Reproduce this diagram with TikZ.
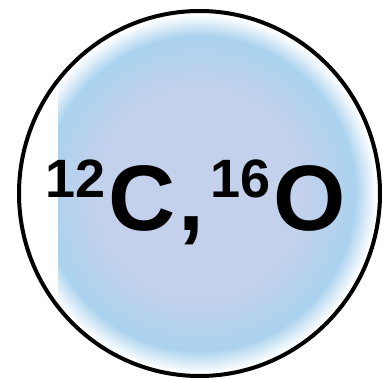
\documentclass[tikz,border=0pt]{standalone}
\usepackage{fontspec}
\setmainfont{Liberation Sans}
\definecolor{lav}{RGB}{196,209,236}
\definecolor{bl}{RGB}{170,210,238}
\pgfdeclareradialshading{bubble}{\pgfpoint{0bp}{0bp}}{color(0bp)=(lav); color(14bp)=(lav); color(21.5bp)=(bl); color(24.6bp)=(white); color(25bp)=(white); color(50bp)=(white)}
\tikzset{
  rim/.style={draw=black, line width=4pt},
  isotope/.style={anchor=base west, inner sep=0pt, font=\bfseries}
}
\newcommand{\supnum}[1]{\raisebox{33pt}{\fontsize{54}{54}\selectfont #1}}
\begin{document}
\begin{tikzpicture}[x=1pt,y=-1pt]
\useasboundingbox (0,0) rectangle (383,378);
\begin{scope}
  \clip (58,0) rectangle (383,378);
  \shade[shading=bubble] (199.5,193.5) ellipse [x radius=180.5, y radius=182.5];
\end{scope}
\draw[rim] (199.5,193.5) ellipse [x radius=180.5, y radius=182.5];
\node[isotope] (label) at (45,230) {\fontsize{93}{93}\selectfont\supnum{12}\kern3pt C\kern3pt,\kern6pt\supnum{16}\kern3pt O};
\end{tikzpicture}
\end{document}
